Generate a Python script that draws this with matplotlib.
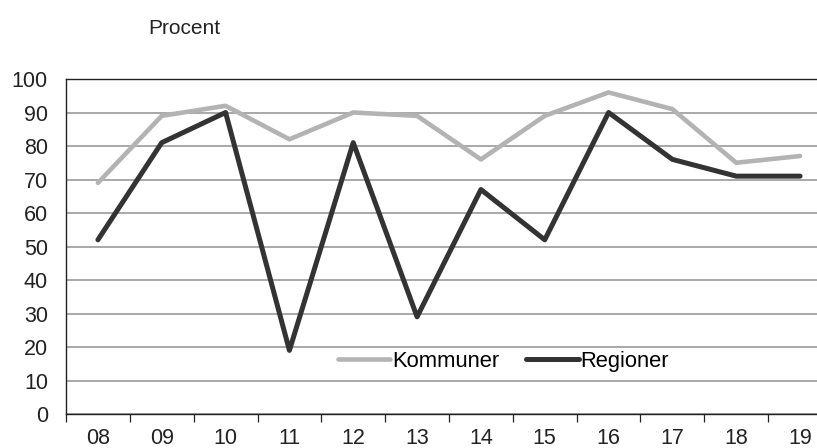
import numpy as np
import matplotlib.pyplot as plt

plt.rcParams['font.family'] = ['Liberation Sans', 'DejaVu Sans']

years = ["08", "09", "10", "11", "12", "13", "14", "15", "16", "17", "18", "19"]
kommuner = [69, 89, 92, 82, 90, 89, 76, 89, 96, 91, 75, 77]
regioner = [52, 81, 90, 19, 81, 29, 67, 52, 90, 76, 71, 71]
y_ticks = list(range(0, 101, 10))

fig = plt.figure(figsize=(8.17, 4.48), dpi=100)
# axis runs past the right edge of the picture, as in the original
ax = fig.add_axes([66 / 817, 34 / 448, 766 / 817, 335 / 448])

x = np.arange(len(years))
ax.plot(x, kommuner, color='#b3b3b3', lw=3.3, label='Kommuner', solid_capstyle='round')
ax.plot(x, regioner, color='#333333', lw=3.6, label='Regioner', solid_capstyle='round')

ax.set_xlim(-0.5, len(years) - 0.5)
ax.set_ylim(0, 100)
ax.set_yticks(y_ticks)
ax.yaxis.grid(True, color='#9a9a9a', lw=1.2)
ax.set_axisbelow(True)
ax.tick_params(axis='y', length=0, pad=13, labelsize=15.5, colors='#222222')

ax.set_xticks(x)
ax.set_xticklabels(years)
ax.set_xticks(np.arange(-0.5, len(years), 1), minor=True)
ax.tick_params(axis='x', which='major', length=0, pad=10, labelsize=15.5, colors='#222222')
ax.tick_params(axis='x', which='minor', length=6, width=0.9, direction='out', color='#222222')

ax.spines['right'].set_visible(False)
for s in ['left', 'bottom', 'top']:
    ax.spines[s].set_color('#222222')
    ax.spines[s].set_linewidth(1.0)

ax.legend(loc='center', bbox_to_anchor=(0.571, 0.158), ncol=2, frameon=False,
          handlelength=2.4, handletextpad=0.1, columnspacing=1.2, fontsize=15.8,
          borderpad=0, borderaxespad=0)

fig.text(148 / 817, 1 - 28 / 448, 'Procent', fontsize=15, va='center', ha='left', color='#222222')

fig.savefig('out.png', dpi=100)
